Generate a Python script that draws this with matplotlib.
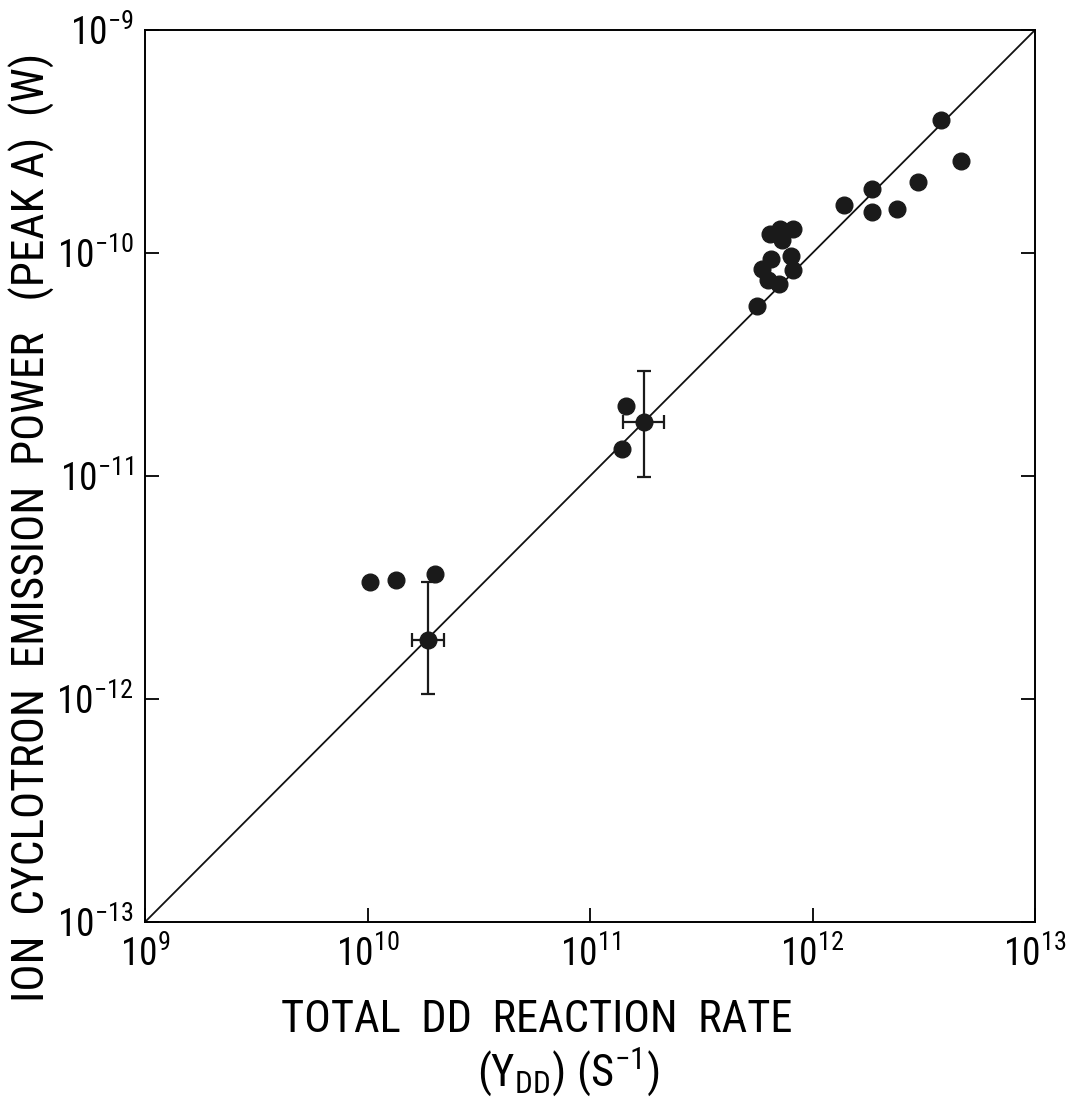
import numpy as np
import matplotlib
matplotlib.use("Agg")
import matplotlib.pyplot as plt
from matplotlib import font_manager
from matplotlib.ticker import FixedLocator, NullLocator

# scattered shots: DD reaction rate (s^-1) vs ICE power (W)
rate = [1.03e10, 1.35e10, 2.02e10,
        1.45e11, 1.39e11,
        5.65e11, 5.92e11, 6.31e11, 6.43e11, 6.49e11, 7.1e11, 7.18e11,
        7.3e11, 7.98e11, 8.15e11, 8.18e11,
        1.39e12, 1.86e12, 1.86e12, 2.39e12, 2.97e12, 3.78e12, 4.64e12]
power = [3.33e-12, 3.4e-12, 3.62e-12,
         2.05e-11, 1.32e-11,
         5.78e-11, 8.5e-11, 7.57e-11, 1.22e-10, 9.4e-11, 7.24e-11, 1.28e-10,
         1.14e-10, 9.7e-11, 1.28e-10, 8.4e-11,
         1.65e-10, 1.93e-10, 1.53e-10, 1.57e-10, 2.08e-10, 3.95e-10, 2.59e-10]

# two shots with error bars
err_rate = [1.87e10, 1.75e11]
err_power = [1.84e-12, 1.75e-11]
err_rate_lo = [1.58e10, 1.41e11]
err_rate_hi = [2.21e10, 2.15e11]
err_power_lo = [1.05e-12, 9.9e-12]
err_power_hi = [3.36e-12, 2.97e-11]

# proportionality line P = 1e-22 * Y
line_rate = [1e9, 1e13]
line_power = [1e-13, 1e-9]

xt = [1e9, 1e10, 1e11, 1e12, 1e13]
yt = [1e-13, 1e-12, 1e-11, 1e-10, 1e-9]

names = {f.name for f in font_manager.fontManager.ttflist}
fam = "DejaVu Sans"
for cand in ["Liberation Sans Narrow", "Roboto Condensed", "Open Sans Condensed", "Roboto"]:
    if cand in names:
        fam = cand
        break
plt.rcParams["font.family"] = [fam, "DejaVu Sans"]
plt.rcParams["mathtext.fontset"] = "custom"
plt.rcParams["mathtext.rm"] = fam
plt.rcParams["mathtext.it"] = fam
plt.rcParams["mathtext.default"] = "regular"

W, H = 1087, 1102
fig = plt.figure(figsize=(W / 100, H / 100), dpi=100)
ax = fig.add_axes([145 / W, 1 - 922 / H, 890 / W, 892 / H])

ax.plot(line_rate, line_power, color="#111111", lw=1.3, zorder=1)

ax.errorbar(err_rate, err_power,
            xerr=[np.subtract(err_rate, err_rate_lo), np.subtract(err_rate_hi, err_rate)],
            yerr=[np.subtract(err_power, err_power_lo), np.subtract(err_power_hi, err_power)],
            fmt="o", color="#1a1a1a", ms=12, elinewidth=1.6, capsize=5, capthick=1.6, zorder=3)
ax.plot(rate, power, "o", color="#1a1a1a", ms=12, zorder=3)

ax.set_xscale("log")
ax.set_yscale("log")
ax.set_xlim(1e9, 1e13)
ax.set_ylim(1e-13, 1e-9)

ax.xaxis.set_major_locator(FixedLocator(xt))
ax.yaxis.set_major_locator(FixedLocator(yt))
ax.xaxis.set_minor_locator(NullLocator())
ax.yaxis.set_minor_locator(NullLocator())
ax.set_xticklabels([r"$10^{%d}$" % int(np.log10(v)) for v in xt])
ax.set_yticklabels([r"$10^{%d}$" % int(np.log10(v)) for v in yt])
ax.tick_params(direction="in", length=10, width=1.3, labelsize=27,
               left=True, right=True, bottom=True, top=False)
ax.tick_params(axis="x", pad=10)
ax.tick_params(axis="y", pad=8)
for s in ax.spines.values():
    s.set_linewidth(1.4)

xl1 = fig.text(537 / W, 1 - 1020 / H, "TOTAL  DD  REACTION  RATE",
               ha="center", va="center", fontsize=30)
xl2 = fig.text(568 / W, 1 - 1072 / H, r"$(Y_{DD})\ (S^{-1})$",
               ha="center", va="center", fontsize=30)
yl = fig.text(32 / W, 1 - 527 / H, "ION  CYCLOTRON  EMISSION  POWER   (PEAK A)  (W)",
              ha="center", va="center", rotation=90, fontsize=30)

# size labels to the span they take in the original
fig.canvas.draw()
r = fig.canvas.get_renderer()
yl.set_fontsize(30 * 947 / yl.get_window_extent(r).height)
fs1 = 30 * 511 / xl1.get_window_extent(r).width
xl1.set_fontsize(fs1)
xl2.set_fontsize(fs1)

fig.savefig("out.png", dpi=100)
